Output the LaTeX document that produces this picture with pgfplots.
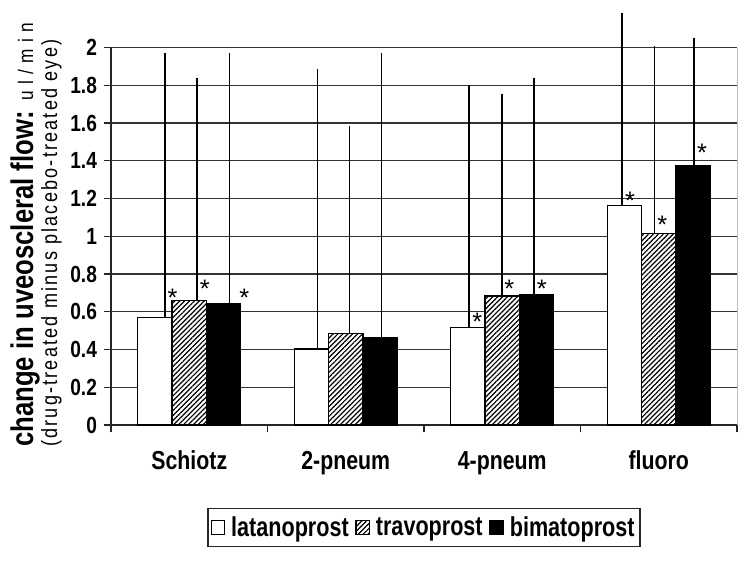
\documentclass[border=0pt]{standalone}
\usepackage{fontspec}
\setmainfont{Liberation Sans}
\newfontfamily\narrow{Liberation Sans}[FakeStretch=0.82]
\newfontfamily\legfont{Liberation Sans}[FakeStretch=0.79]
\usepackage{pgfplots}
\pgfplotsset{compat=1.18}
\usetikzlibrary{patterns.meta}
\begin{document}
\begin{tikzpicture}[x=1pt,y=1pt]
\path[use as bounding box] (0,0) rectangle (563.25,423);
\begin{axis}[
  at={(83.25pt,104.25pt)}, anchor=south west,
  scale only axis, width=469.5pt, height=283.1pt,
  xmin=-0.5, xmax=3.5, ymin=0, ymax=2,
  clip=false,
  axis x line=bottom, axis y line=left,
  axis line style={-, line width=0.9pt, black!85},
  ytick={0,0.2,0.4,0.6,0.8,1,1.2,1.4,1.6,1.8,2},
  ymajorgrids, grid style={line width=0.9pt, black!80},
  xtick={-0.5,0.5,1.5,2.5,3.5}, xticklabels={,,,,},
  extra x ticks={0,1,2,3},
  extra x tick labels={Schiotz,2-pneum,4-pneum,fluoro},
  extra x tick style={tick style={draw=none}},
  tick align=outside, major tick length=5.5pt,
  tick style={line width=0.9pt, black!85},
  /pgf/number format/assume math mode=true,
  yticklabel style={font=\narrow\bfseries\fontsize{17.5}{18}\selectfont, xshift=-1.5pt},
  xticklabel style={font=\narrow\bfseries\fontsize{19.5}{20}\selectfont, text height=14pt, text depth=4pt, yshift=-10pt},
  legend columns=3,
  legend cell align=left,
  legend style={at={(0.5,0)}, anchor=center, yshift=-76.9pt, draw=black!85, line width=0.9pt,
    font=\legfont\bfseries\fontsize{20.5}{21}\selectfont, inner xsep=2pt, inner ysep=4pt,
    /tikz/every even column/.append style={column sep=3pt}},
  legend image code/.code={\draw[#1, line width=0.8pt] (0pt,-5pt) rectangle (10pt,5.5pt); \path (12.5pt,0pt);},
]
\addplot[ybar, bar width=0.22, bar shift=-0.22, draw=black, line width=0.9pt, fill=white]
  coordinates {(0,0.568) (1,0.403) (2,0.517) (3,1.164)};
\addlegendentry{latanoprost}
\addplot[ybar, bar width=0.22, bar shift=0, draw=black, line width=0.9pt, fill=white,
  postaction={pattern={Lines[angle=45,distance=2.6pt,line width=0.9pt]}, pattern color=black}]
  coordinates {(0,0.658) (1,0.486) (2,0.683) (3,1.016)};
\addlegendentry{travoprost}
\addplot[ybar, bar width=0.22, bar shift=0.22, draw=black, line width=0.9pt, fill=black]
  coordinates {(0,0.643) (1,0.465) (2,0.692) (3,1.376)};
\addlegendentry{bimatoprost}
\addplot[forget plot, draw=none, mark=none,
  error bars/.cd, y dir=plus, y explicit, error mark=none,
  error bar style={draw=black, solid, line width=1.1pt}]
  coordinates {
  (-0.155,0.568) +- (0,1.401)
  (0.0495,0.658) +- (0,1.182)
  (0.256,0.643) +- (0,1.326)
  (0.818,0.403) +- (0,1.481)
  (1.023,0.486) +- (0,1.100)
  (1.230,0.465) +- (0,1.504)
  (1.789,0.517) +- (0,1.284)
  (1.997,0.683) +- (0,1.071)
  (2.203,0.692) +- (0,1.148)
  (2.765,1.164) +- (0,1.017)
  (2.972,1.016) +- (0,0.994)
  (3.225,1.376) +- (0,0.676)
  };
\draw[black!25, line width=0.6pt] (axis cs:3.5,0) -- (axis cs:3.5,2);
\tikzset{star/.style={anchor=base, inner sep=0pt, yshift=-10pt, font=\fontsize{19}{19}\selectfont}}
\node[star] at (axis cs:-0.106,0.698) {*};
\node[star] at (axis cs:0.099,0.745) {*};
\node[star] at (axis cs:0.352,0.698) {*};
\node[star] at (axis cs:1.841,0.571) {*};
\node[star] at (axis cs:2.045,0.745) {*};
\node[star] at (axis cs:2.252,0.745) {*};
\node[star] at (axis cs:2.816,1.210) {*};
\node[star] at (axis cs:3.023,1.086) {*};
\node[star] at (axis cs:3.276,1.469) {*};
\end{axis}
\node[rotate=90, anchor=base west, inner sep=0pt] at (24.75,87.75)
  {\narrow\bfseries\fontsize{23.5}{24}\selectfont change in uveoscleral flow:\mdseries\fontsize{15.75}{16}\selectfont\addfontfeature{LetterSpace=30}~ul/min};
\node[rotate=90, anchor=base west, inner sep=0pt] at (42.75,87.75)
  {\narrow\addfontfeature{LetterSpace=10}\fontsize{16.5}{17}\selectfont (drug-treated minus placebo-treated eye)};
\end{tikzpicture}
\end{document}
